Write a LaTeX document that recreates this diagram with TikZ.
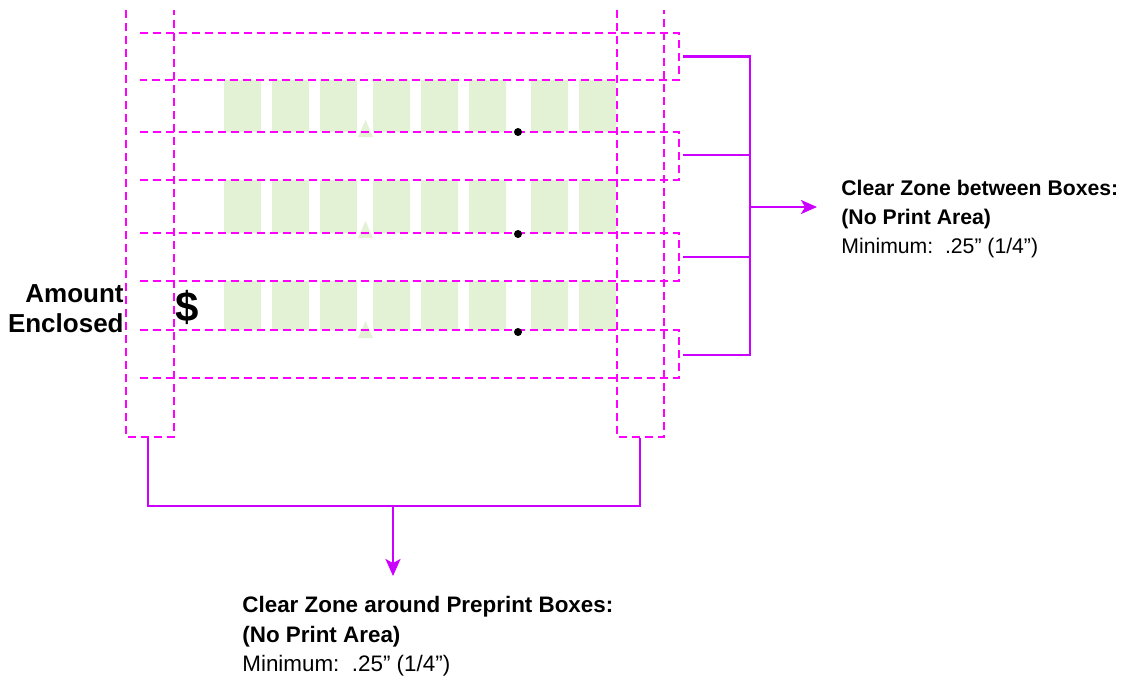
\documentclass[tikz,border=0pt]{standalone}
\usepackage{fontspec}
\setmainfont{Liberation Sans}
\usetikzlibrary{positioning, arrows.meta, calc}
\definecolor{zonepink}{RGB}{255,0,255}
\definecolor{leadviolet}{RGB}{204,0,255}
\definecolor{cellgreen}{RGB}{227,241,213}

\begin{document}
\begin{tikzpicture}[x=0.5pt,y=-0.5pt,
  zone/.style={draw=zonepink, line width=1.25pt, dash pattern=on 4pt off 2.5pt},
  cell/.style={fill=cellgreen},
  lead/.style={draw=leadviolet, line width=1.2pt},
  note/.style={anchor=base west, inner sep=0pt, font=\fontsize{10.6}{13}\selectfont},
  bignote/.style={anchor=base west, inner sep=0pt, font=\fontsize{11.2}{13}\selectfont}]

\useasboundingbox (0,0) rectangle (1122,677);

% Preprint boxes
\fill[cell] (224,80) rectangle +(37,52) (272,80) rectangle +(37,52) (320,80) rectangle +(37,52) (373,80) rectangle +(37,52)
            (421,80) rectangle +(37,52) (469,80) rectangle +(37,52) (531,80) rectangle +(37,52) (579,80) rectangle +(37,52);
\fill[cell] (224,180) rectangle +(37,53) (272,180) rectangle +(37,53) (320,180) rectangle +(37,53) (373,180) rectangle +(37,53)
            (421,180) rectangle +(37,53) (469,180) rectangle +(37,53) (531,180) rectangle +(37,53) (579,180) rectangle +(37,53);
\fill[cell] (224,281) rectangle +(37,49) (272,281) rectangle +(37,49) (320,281) rectangle +(37,49) (373,281) rectangle +(37,49)
            (421,281) rectangle +(37,49) (469,281) rectangle +(37,49) (531,281) rectangle +(37,49) (579,281) rectangle +(37,49);
\fill[cell] (365.5,120) -- (373,137) -- (358,137) -- cycle;
\fill[cell] (365.5,221) -- (373,238) -- (358,238) -- cycle;
\fill[cell] (365.5,321) -- (373,338) -- (358,338) -- cycle;

% Clear zones
\draw[zone] (140,33) -- (679,33) -- (679,80) -- (140,80);
\draw[zone] (140,132) -- (679,132) -- (679,180) -- (140,180);
\draw[zone] (140,233) -- (679,233) -- (679,281) -- (140,281);
\draw[zone] (140,330) -- (679,330) -- (679,378) -- (140,378);
\draw[zone] (126,10) -- (126,437) -- (174,437) -- (174,10);
\draw[zone] (617,10) -- (617,437) -- (664,437) -- (664,10);

% Decimal points
\fill (518,132) circle (2pt);
\fill (518,234) circle (2pt);
\fill (518,332) circle (2pt);

% Amount label
\node[anchor=base east, inner sep=0pt, font=\fontsize{13}{15}\selectfont\bfseries] (amount) at (124,302) {Amount};
\node[below=15pt of amount.base east, anchor=base east, inner sep=0pt, font=\fontsize{13}{15}\selectfont\bfseries] (enclosed) {Enclosed};
\node[anchor=base, inner sep=0pt, font=\fontsize{21}{23}\selectfont\bfseries] (dollar) at (187,321) {\$};

% Leaders
\coordinate (zone1) at (683,56.5);
\coordinate (zone2) at (683,155);
\coordinate (zone3) at (683,257);
\coordinate (zone4) at (683,355);
\coordinate (spine) at (750,207);
\coordinate (rtip) at (817,207);
\coordinate (lcol) at (148,438);
\coordinate (rcol) at (640,438);
\coordinate (bjoin) at (393,506);
\coordinate (btip) at (393,576);

\draw[lead] (zone1) -- (zone1 -| spine) -- (zone4 -| spine) -- (zone4);
\draw[lead] (zone2) -- (zone2 -| spine);
\draw[lead] (zone3) -- (zone3 -| spine);
\draw[lead, -{Stealth[length=8pt, width=7pt, inset=2pt]}] (spine) -- (rtip);
\draw[lead] (lcol) -- (lcol |- bjoin) -- (rcol |- bjoin) -- (rcol);
\draw[lead, -{Stealth[length=8.5pt, width=7.5pt, inset=2pt]}] (bjoin) -- (btip);

% Notes
\node[note, font=\fontsize{10.6}{13}\selectfont\bfseries] (between) at (841,195) {Clear Zone between Boxes:};
\node[below=14.5pt of between.base west, note, font=\fontsize{10.6}{13}\selectfont\bfseries] (betweenarea) {(No Print Area)};
\node[below=14.5pt of betweenarea.base west, note] (betweenmin) {Minimum:~~.25” (1/4”)};

\node[bignote, font=\fontsize{11.2}{13}\selectfont\bfseries] (around) at (242,612) {Clear Zone around Preprint Boxes:};
\node[below=15pt of around.base west, bignote, font=\fontsize{11.2}{13}\selectfont\bfseries] (aroundarea) {(No Print Area)};
\node[below=14.5pt of aroundarea.base west, bignote] (aroundmin) {Minimum:~~.25” (1/4”)};

\end{tikzpicture}
\end{document}
